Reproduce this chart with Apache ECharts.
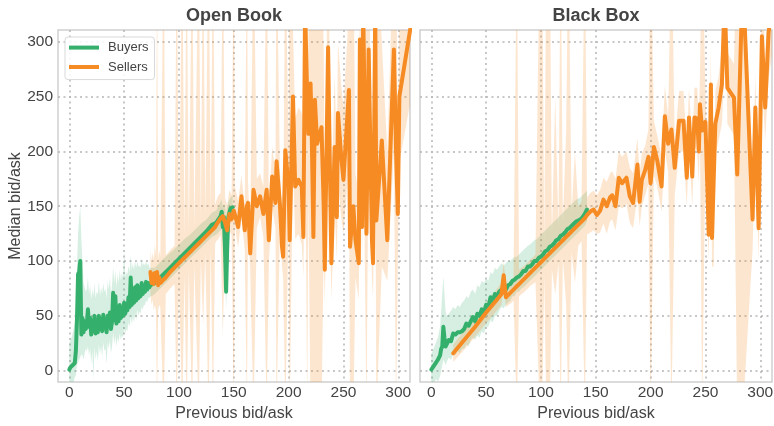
<!DOCTYPE html>
<html>
<head>
<meta charset="utf-8">
<title>Median bid/ask vs previous bid/ask</title>
<script src="https://cdn.jsdelivr.net/npm/echarts@6/dist/echarts.min.js"></script>
<style>
  html, body { margin: 0; padding: 0; background: #ffffff; }
  #chart { width: 774px; height: 426px; }
</style>
</head>
<body>
<div id="chart"></div>
<script>
// ---------- Open Book: buyers ----------
const obBuyersX = [
  0,1,2,3,4,5,6,7,8,9,
  10,11,12,13,14,15,16,17,18,19,
  20,21,22,23,24,25,26,27,28,29,
  30,31,32,33,34,35,36,37,38,39,
  40,41,42,43,44,45,46,47,48,49,
  50,51,52,53,54,55,56,57,58,59,
  60,61,62,63,64,65,66,67,68,69,
  70,71,72,73,74,75,
  78,82,86,90,95,100,105,110,115,120,
  125,130,134,136,138,139,140,141,142,143,
  144,145,147,149
];
const obBuyersY = [
  1,3,4,5,6,7,18,46,88,90,
  100,33,48,35,45,38,42,56,40,48,
  33,45,36,50,34,42,35,50,38,47,
  36,51,40,44,35,50,42,53,38,45,
  71,46,68,43,56,45,60,48,55,50,
  62,52,58,55,67,58,85,60,72,62,
  76,64,78,66,70,68,80,70,74,72,
  81,74,80,76,78,78,
  80,84,88,92,97,102,107,112,117,122,
  127,133,135,138,141,145,131,140,110,72,
  112,140,148,149
];
const obBuyersLow = [
  -15,-14,-12,-12,-10,-6,-4,5,8,10,
  12,15,14,10,16,20,18,22,14,20,
  6,18,-8,22,10,18,8,24,15,22,
  12,26,18,20,6,26,20,28,16,22,
  35,24,32,22,30,26,34,28,32,30,
  38,34,38,36,44,40,50,42,50,44,
  52,46,56,50,54,52,58,56,60,60,
  64,62,66,66,68,68,
  70,74,78,82,87,92,97,102,107,112,
  117,122,124,126,128,130,118,120,90,55,
  95,128,136,138
];
const obBuyersHigh = [
  25,28,30,34,38,45,60,95,125,140,
  150,120,100,80,76,72,75,85,70,78,
  65,74,68,80,66,72,70,82,68,76,
  70,80,72,75,66,82,74,85,70,78,
  95,80,92,76,88,80,92,82,90,84,
  110,86,90,88,96,90,105,92,98,92,
  100,94,100,95,96,94,102,96,98,96,
  100,96,98,94,94,94,
  94,98,102,106,110,115,120,124,129,134,
  138,144,146,150,154,156,150,152,150,140,
  150,154,158,160
];

// ---------- Open Book: sellers ----------
const obSellersX = [
  74,75,76,77,78,79,80,81,82,83,
  86,88,92,96,98,100,103,105,107,109,
  112,114,118,120,122,124,127,129,131,133,
  134,136,138,140,142,144,146,148,150,151,
  154,157,160,162,163,165,168,171,174,177,
  180,182,185,188,189,192,194,195,197,200,
  201,204,206,209,212,213.5,215,217,218,220,
  221,222.6,224,226,228,230,232,233,236,239,
  242,244,245,248,250,255,256,259,261,264,
  265,267,268,271,273,276,277,279,280,285,
  290,296,298,299.6,301,312
];
const obSellersY = [
  90,80,88,79,89,82,90,78,85,80,
  83,85,90,94,96,98,101,103,105,107,
  110,112,116,118,120,122,125,127,129,131,
  133,136,139,141,135,128,143,138,146,147,
  131,159,128,150,153,107,165,150,159,143,
  165,119,177,153,191,153,113,104,201,168,
  119,250,168,174,168,122,330,250,216,262,
  222,122,247,207,215,222,150,92,295,98,
  204,140,235,195,174,256,113,150,119,98,
  302,131,330,125,293,119,98,330,137,210,
  119,293,200,143,250,318
];
const obSellersLow = [
  70,60,65,55,60,55,-40,55,60,58,
  -40,70,75,79,-40,83,-40,88,-40,92,
  -40,97,-40,103,40,107,-40,112,-40,116,
  118,120,124,30,120,112,128,124,-40,132,
  112,140,110,-40,134,92,-40,130,140,122,
  -40,100,150,130,-40,130,95,85,-40,140,
  -40,190,120,125,115,85,240,-40,160,-40,
  -40,-40,-40,-40,-40,-40,110,60,220,65,
  150,100,170,140,125,190,-40,-40,85,65,
  230,95,240,-40,220,85,65,240,-40,95,
  82,200,-40,100,190,250
];
const obSellersHigh = [
  110,100,108,100,115,105,400,100,110,104,
  400,105,110,114,400,118,400,123,400,127,
  400,132,400,138,400,142,400,147,400,151,
  155,160,162,400,158,150,165,160,400,168,
  155,178,150,400,172,130,400,175,180,168,
  400,145,205,180,400,185,140,130,400,200,
  400,310,230,240,235,190,400,400,290,400,
  400,400,400,400,400,400,290,150,400,160,
  270,200,300,260,240,330,400,400,180,160,
  400,190,400,400,400,180,160,400,400,300,
  200,400,400,200,320,400
];

// ---------- Black Box: buyers ----------
const bbBuyersX = [
  0,2,4,5,6,8,9,10,11,12,
  13,14,16,18,20,22,24,26,28,30,
  32,34,36,38,40,42,44,46,48,50,
  52,54,56,58,60,62,64,66,68,70,
  72,74,76,78,80,82,84,86,88,90,
  92,94,96,98,100,102,104,106,108,110,
  112,114,116,118,120,122,124,126,128,130,
  132,134,136,138,140,142
];
const bbBuyersY = [
  1,4,7,8,10,14,20,22,40,30,
  22,24,28,27,34,33,35,35,36,38,
  43,41,45,49,45,52,50,56,53,60,
  58,67,63,70,68,72,74,73,74,78,
  79,82,83,85,86,88,91,91,95,95,
  97,100,100,103,104,106,109,110,113,114,
  116,119,120,123,124,126,129,130,132,134,
  136,137,138,140,143,147
];
const bbBuyersLow = [
  -15,-12,-8,-8,-10,-5,0,5,10,8,
  5,8,12,10,15,14,18,16,20,20,
  24,22,28,30,28,32,30,36,34,40,
  40,46,44,50,50,55,58,57,60,62,
  64,68,68,72,72,75,76,78,80,82,
  84,86,88,90,92,94,96,98,100,102,
  104,106,108,110,112,114,116,118,120,122,
  124,126,128,130,132,136
];
const bbBuyersHigh = [
  15,20,25,28,30,40,55,70,86,70,
  55,50,52,55,58,56,60,58,62,64,
  68,66,72,74,70,78,76,82,80,84,
  82,90,88,94,92,95,98,96,98,100,
  100,102,104,104,106,108,110,112,114,115,
  117,119,120,122,124,126,128,130,132,134,
  136,138,140,142,144,146,148,150,152,154,
  156,157,158,160,162,164
];

// ---------- Black Box: sellers ----------
const bbSellersX = [
  20,30,40,50,60,64,66,68,72,75,
  78,80,85,90,95,99,101,103,105,108,
  110,113,116,118,120,123,125,128,131,134,
  137,140,142,145,148,151,154,157,160,163,
  165,168,171,174,178,181,184,188,190,192,
  195,198,200,203,206,210,213,216,219,222,
  226,230,233,235,238,240,242.5,244,245,247,
  250,253,255,256,257.5,259,262,265,267.5,269,
  270,276,279,284,293,295.5,298.5,300.5,301.5,304.5,
  307.5,311
];
const bbSellersY = [
  16,28,40,53,65,70,87,67,71,74,
  77,79,84,89,94,98,100,102,104,107,
  109,112,115,117,119,122,124,127,130,133,
  136,139,142,145,147,142,146,156,150,158,
  160,150,176,171,176,159,153,188,154,174,
  183,195,171,204,192,168,232,207,220,185,
  228,228,176,231,177,231,230,200,243,219,
  227,124,261,121,121,225,240,261,340,340,
  258,249,179,360,138,240,130,249,305,240,
  307,340
];
const bbSellersLow = [
  8,19,31,43,55,60,75,58,61,64,
  -40,68,72,77,81,-40,-40,86,-40,-40,
  92,70,98,-40,103,60,-40,108,80,114,
  118,-40,124,126,128,125,126,134,125,136,
  138,128,150,148,152,135,130,160,132,150,
  160,170,-40,178,168,145,200,182,-40,160,
  200,200,150,205,150,205,200,170,215,-40,
  195,100,225,95,95,195,210,225,280,280,
  225,215,-40,-40,110,205,100,215,265,210,
  265,290
];
const bbSellersHigh = [
  24,37,49,62,75,80,100,78,82,85,
  400,92,96,101,106,400,400,118,400,400,
  124,250,130,400,134,220,400,145,200,150,
  154,400,158,162,164,160,165,176,172,180,
  182,175,200,195,200,185,180,212,180,198,
  205,220,400,228,215,195,260,232,400,210,
  255,255,205,258,205,258,258,228,270,400,
  255,150,295,148,148,255,268,295,400,400,
  290,280,400,400,170,270,160,282,400,270,
  400,400
];

// ---------- Panels and axis ranges ----------
const panelTitles = ['Open Book', 'Black Box'];
const xAxisTitle = 'Previous bid/ask';
const yAxisTitle = 'Median bid/ask';
const AXIS_MIN = -10.3;
const AXIS_MAX = 310.7;
const TICK_STEP = 50;

const GREEN = '#35b06c';
const ORANGE = '#f68b23';
const GREEN_BAND = 'rgba(53,176,108,0.2)';
const ORANGE_BAND = 'rgba(246,139,35,0.22)';
const TEXT = '#444444';
const FONT = '"Liberation Sans", Arial, Helvetica, sans-serif';

const pairs = (xs, ys) => xs.map((x, i) => [x, ys[i]]);

// Shaded interval: one polygon along the upper bound and back along the lower bound
function band(xs, lo, hi, fill, idx) {
  return {
    type: 'custom',
    xAxisIndex: idx,
    yAxisIndex: idx,
    clip: true,
    silent: true,
    z: 1,
    data: [[xs[0], lo[0]]],
    encode: { x: 0, y: 1 },
    renderItem: function (params, api) {
      const pts = [];
      for (let i = 0; i < xs.length; i++) pts.push(api.coord([xs[i], hi[i]]));
      for (let i = xs.length - 1; i >= 0; i--) pts.push(api.coord([xs[i], lo[i]]));
      return { type: 'polygon', shape: { points: pts }, style: { fill: fill } };
    }
  };
}

function line(name, xs, ys, color, idx) {
  return {
    type: 'line',
    name: name,
    xAxisIndex: idx,
    yAxisIndex: idx,
    data: pairs(xs, ys),
    showSymbol: false,
    symbol: 'none',
    clip: true,
    silent: true,
    z: 3,
    color: color,
    itemStyle: { color: color },
    lineStyle: { width: 4, color: color, join: 'round', cap: 'round' }
  };
}

const gridLine = { color: '#b5b5b5', width: 1.5, type: [2, 3.5] };

function xAxis(idx) {
  return {
    type: 'value', gridIndex: idx,
    min: AXIS_MIN, max: AXIS_MAX, minInterval: TICK_STEP, maxInterval: TICK_STEP,
    name: xAxisTitle, nameLocation: 'middle', nameGap: 20,
    nameTextStyle: { fontSize: 16, color: TEXT, fontFamily: FONT },
    axisLine: { show: false }, axisTick: { show: false },
    axisLabel: { fontSize: 15.5, color: TEXT, fontFamily: FONT, margin: 3,
                 showMinLabel: false, showMaxLabel: false },
    splitLine: { show: true, showMinLine: false, showMaxLine: false, lineStyle: gridLine }
  };
}

function yAxis(idx) {
  return {
    type: 'value', gridIndex: idx,
    min: AXIS_MIN, max: AXIS_MAX, minInterval: TICK_STEP, maxInterval: TICK_STEP,
    name: idx === 0 ? yAxisTitle : '', nameLocation: 'middle', nameGap: 34, nameRotate: 90,
    nameTextStyle: { fontSize: 16, color: TEXT, fontFamily: FONT },
    axisLine: { show: false }, axisTick: { show: false },
    axisLabel: { show: idx === 0, fontSize: 15.5, color: TEXT, fontFamily: FONT, margin: 5,
                 showMinLabel: false, showMaxLabel: false },
    splitLine: { show: true, showMinLine: false, showMaxLine: false, lineStyle: gridLine }
  };
}

const gridBox = { top: 30, width: 352, height: 352, show: true, borderColor: '#cfcfcf',
                  borderWidth: 1.5, backgroundColor: 'transparent', containLabel: false,
                  outerBoundsMode: 'none' };

const option = {
  animation: false,
  backgroundColor: '#ffffff',
  title: [
    { text: panelTitles[0], left: 234, top: 16, textAlign: 'center', textVerticalAlign: 'middle', padding: 0,
      textStyle: { fontSize: 18, fontWeight: 'bold', color: TEXT, fontFamily: FONT } },
    { text: panelTitles[1], left: 596, top: 16, textAlign: 'center', textVerticalAlign: 'middle', padding: 0,
      textStyle: { fontSize: 18, fontWeight: 'bold', color: TEXT, fontFamily: FONT } }
  ],
  legend: {
    left: 65, top: 37, orient: 'vertical',
    data: [{ name: 'Buyers', icon: 'rect' }, { name: 'Sellers', icon: 'rect' }],
    itemWidth: 30, itemHeight: 4, itemGap: 3.4,
    padding: [2.6, 6, 4.6, 4],
    selectedMode: false,
    textStyle: { fontSize: 13, color: TEXT, fontFamily: FONT, lineHeight: 16, padding: [0, 0, 0, 4] },
    backgroundColor: 'rgba(255,255,255,0.85)', borderColor: '#d9d9d9', borderWidth: 1, borderRadius: 3
  },
  grid: [Object.assign({ left: 58 }, gridBox), Object.assign({ left: 420 }, gridBox)],
  xAxis: [xAxis(0), xAxis(1)],
  yAxis: [yAxis(0), yAxis(1)],
  series: [
    band(obBuyersX, obBuyersLow, obBuyersHigh, GREEN_BAND, 0),
    band(obSellersX, obSellersLow, obSellersHigh, ORANGE_BAND, 0),
    line('Buyers', obBuyersX, obBuyersY, GREEN, 0),
    line('Sellers', obSellersX, obSellersY, ORANGE, 0),
    band(bbBuyersX, bbBuyersLow, bbBuyersHigh, GREEN_BAND, 1),
    band(bbSellersX, bbSellersLow, bbSellersHigh, ORANGE_BAND, 1),
    line('Buyers', bbBuyersX, bbBuyersY, GREEN, 1),
    line('Sellers', bbSellersX, bbSellersY, ORANGE, 1)
  ]
};

const chart = echarts.init(document.getElementById('chart'), null, { renderer: 'canvas' });
chart.setOption(option);
</script>
</body>
</html>
